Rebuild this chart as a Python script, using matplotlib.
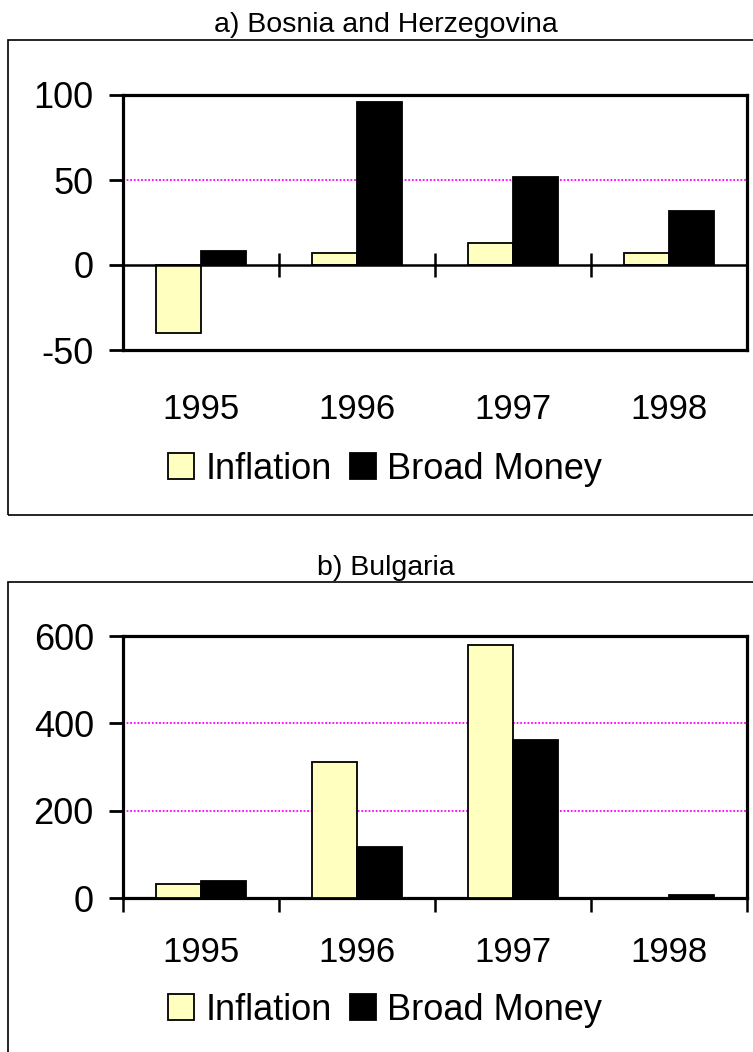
import numpy as np
import matplotlib
matplotlib.use("Agg")
import matplotlib.pyplot as plt
from matplotlib.patches import Rectangle

plt.rcParams['font.family'] = ['Liberation Sans', 'DejaVu Sans']
plt.rcParams['axes.unicode_minus'] = False

years = ["1995", "1996", "1997", "1998"]
bih_inflation = [-40, 7, 13, 7]
bih_money = [8, 96, 52, 32]
bgr_inflation = [32, 311, 579, 0]
bgr_money = [40, 117, 362, 8]

INF_COLOR = '#FFFFC0'
GRID_COLOR = '#FF00FF'
W, H = 753, 1052

fig = plt.figure(figsize=(W / 100, H / 100), dpi=100)

def fx(px):
    return px / W

def fy(py):
    return 1 - py / H

# outer panel frames
for top, bottom in [(40, 515), (582, 1060)]:
    fig.patches.append(Rectangle((fx(8), fy(bottom)), 1.0, (bottom - top) / H,
                                 transform=fig.transFigure, fill=False,
                                 edgecolor='black', linewidth=1.2))

fig.text(0.512, fy(25), "a) Bosnia and Herzegovina", ha='center', va='center', fontsize=20.5)
fig.text(0.513, fy(568), "b) Bulgaria", ha='center', va='center', fontsize=20.5)

ax_a = fig.add_axes([fx(123), fy(350), fx(747) - fx(123), (350 - 95) / H])
ax_b = fig.add_axes([fx(123), fy(898), fx(747) - fx(123), (898 - 636) / H])

x = np.arange(len(years))
bw = 0.29

def draw(ax, infl, money, ylim, yticks, grid_vals, label_pad):
    ax.bar(x - bw / 2, infl, bw, color=INF_COLOR, edgecolor='black', linewidth=1.3,
           label='Inflation', zorder=3)
    ax.bar(x + bw / 2, money, bw, color='black', edgecolor='black', linewidth=1.3,
           label='Broad Money', zorder=3)
    for g in grid_vals:
        ax.axhline(g, color=GRID_COLOR, linestyle=(0, (1, 1)), linewidth=1.3, zorder=1)
    ax.set_xlim(-0.5, len(years) - 0.5)
    ax.set_ylim(*ylim)
    ax.set_yticks(yticks)
    ax.tick_params(axis='y', direction='out', length=10, width=2, labelsize=26, pad=11)
    ax.set_xticks(x)
    ax.set_xticklabels(years)
    ax.tick_params(axis='x', which='major', length=0, labelsize=25, pad=label_pad)
    for s in ax.spines.values():
        s.set_linewidth(2.3)

draw(ax_a, bih_inflation, bih_money, (-50, 100), [-50, 0, 50, 100], [50], 31)
ax_a.axhline(0, color='black', linewidth=1.8, zorder=4)
ax_a.vlines(x[:-1] + 0.5, -7, 7, color='black', linewidth=1.8, zorder=4)

draw(ax_b, bgr_inflation, bgr_money, (0, 600), [0, 200, 400, 600], [200, 400], 27)
ax_b.set_xticks(np.arange(len(years) + 1) - 0.5, minor=True)
ax_b.tick_params(axis='x', which='minor', direction='out', length=10, width=1.8)

for ax, ly in [(ax_a, 469), (ax_b, 1010)]:
    h, l = ax.get_legend_handles_labels()
    fig.legend(h, l, loc='center', bbox_to_anchor=(fx(385), fy(ly)), ncol=2,
               frameon=False, fontsize=26, handlelength=0.72, handleheight=0.75,
               handletextpad=0.3, columnspacing=0.5, borderaxespad=0, borderpad=0)

fig.savefig("out.png", dpi=100)
